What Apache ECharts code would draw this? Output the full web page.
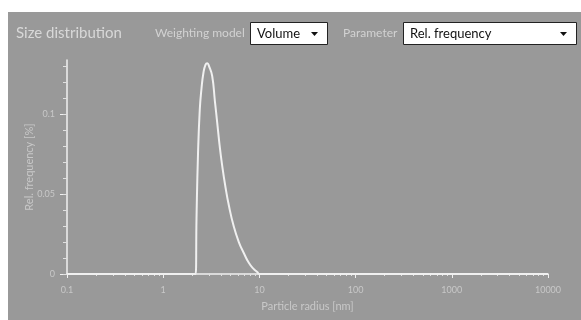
<!DOCTYPE html>
<html><head><meta charset="utf-8">
<script src="https://cdn.jsdelivr.net/npm/echarts@6/dist/echarts.min.js"></script>
<style>html,body{margin:0;padding:0;background:#fff}#c{width:581px;height:320px}</style>
</head><body><div id="c"></div>
<script>
// Data (particle radius in nm, relative frequency in %)
const radiusNm = [0.1, 2.10, 2.17, 2.22, 2.30, 2.40, 2.50, 2.62, 2.75, 2.87, 3.00, 3.23, 3.45, 3.64, 3.85, 4.10, 4.45, 4.81, 5.40, 6.11, 6.90, 7.76, 8.60, 9.49, 10.0, 10000];
const relFreq  = [0, 0, 0, 0.035, 0.075, 0.103, 0.116, 0.126, 0.131, 0.132, 0.130, 0.124, 0.108, 0.095, 0.081, 0.068, 0.054, 0.043, 0.030, 0.020, 0.013, 0.0070, 0.0035, 0.0013, 0, 0];
const xMajorTicks = [0.1, 1, 10, 100, 1000, 10000];
const xMinorTicks = [0.2,0.3,0.4,0.5,0.6,0.7,0.8,0.9, 2,3,4,5,6,7,8,9, 20,30,40,50,60,70,80,90, 200,300,400,500,600,700,800,900, 2000,3000,4000,5000,6000,7000,8000,9000];
const yMajorTicks = [0, 0.05, 0.1];
const yMinorTicks = [0, 0.01, 0.02, 0.03, 0.04, 0.05, 0.06, 0.07, 0.08, 0.09, 0.1, 0.11, 0.12, 0.13];
const yMax = 0.134;
const title = 'Size distribution';
const weightLabel = 'Weighting model', weightValue = 'Volume';
const paramLabel = 'Parameter', paramValue = 'Rel. frequency';

const BG = '#999999', FG = '#f0f0f0', TXT = '#c8c8c8';
const FONT = 'Lato';
const chart = echarts.init(document.getElementById('c'), null, {renderer: 'canvas'});

function dropdown(x, y, w, h, label) {
  return [
    {type: 'rect', shape: {x: x + 0.5, y: y + 0.5, width: w, height: h}, style: {fill: '#ffffff', stroke: '#222222', lineWidth: 1}, z: 10},
    {type: 'text', x: x + 7, y: y + h / 2 + 1, style: {text: label, fill: '#111111', font: '13px ' + FONT, textVerticalAlign: 'middle'}, z: 11},
    {type: 'polygon', shape: {points: [[x + w - 16, y + 10], [x + w - 9, y + 10], [x + w - 12.5, y + 14]]}, style: {fill: '#111111'}, z: 11}
  ];
}

chart.setOption({
  backgroundColor: '#ffffff',
  animation: false,
  graphic: [
    {type: 'rect', shape: {x: 8, y: 12, width: 573, height: 308}, style: {fill: BG}, z: -10},
    {type: 'text', x: 16, y: 33, style: {text: title, fill: '#d8d8d8', font: '15px ' + FONT, textVerticalAlign: 'middle'}, z: 5},
    {type: 'text', x: 155, y: 33, style: {text: weightLabel, fill: '#d2d2d2', font: '12px ' + FONT, textVerticalAlign: 'middle'}, z: 5},
    {type: 'text', x: 343, y: 33, style: {text: paramLabel, fill: '#d2d2d2', font: '12px ' + FONT, textVerticalAlign: 'middle'}, z: 5}
  ].concat(dropdown(250, 22, 77, 22, weightValue)).concat(dropdown(403, 22, 173, 22, paramValue)),
  grid: {left: 67, right: 33, top: 60, bottom: 46, containLabel: false},
  xAxis: [
    {type: 'log', logBase: 10, min: 0.1, max: 10000,
     name: 'Particle radius [nm]', nameLocation: 'middle', nameGap: 27,
     nameTextStyle: {color: TXT, fontSize: 11, fontFamily: FONT},
     axisLine: {show: true, onZero: false, lineStyle: {color: FG, width: 1.5}},
     axisTick: {show: true, length: 4, customValues: xMajorTicks, lineStyle: {color: FG}},
     axisLabel: {color: TXT, fontSize: 9, fontFamily: FONT, margin: 12, customValues: xMajorTicks,
       formatter: v => String(v)},
     splitLine: {show: false}},
    {type: 'log', logBase: 10, min: 0.1, max: 10000, position: 'bottom',
     axisLine: {show: false},
     axisTick: {show: true, length: 2, customValues: xMinorTicks, lineStyle: {color: '#e0e0e0'}},
     axisLabel: {show: false}, splitLine: {show: false}}
  ],
  yAxis: [
    {type: 'value', min: 0, max: yMax,
     name: 'Rel. frequency [%]', nameLocation: 'middle', nameGap: 32, nameMoveOverlap: false,
     nameTextStyle: {color: TXT, fontSize: 11, fontFamily: FONT},
     axisLine: {show: true, lineStyle: {color: FG, width: 1.5}},
     axisTick: {show: true, length: 7, customValues: yMajorTicks, lineStyle: {color: FG}},
     axisLabel: {color: TXT, fontSize: 9, fontFamily: FONT, margin: 12, customValues: yMajorTicks,
       formatter: v => String(v)},
     splitLine: {show: false}},
    {type: 'value', min: 0, max: yMax, position: 'left',
     axisLine: {show: false},
     axisTick: {show: true, length: 4, customValues: yMinorTicks, lineStyle: {color: '#e0e0e0'}},
     axisLabel: {show: false}, splitLine: {show: false}}
  ],
  series: [{
    type: 'line', xAxisIndex: 0, yAxisIndex: 0,
    data: radiusNm.map((r, i) => [r, relFreq[i]]),
    showSymbol: false, smooth: 0.5,
    lineStyle: {color: FG, width: 2}
  }]
});
</script></body></html>
